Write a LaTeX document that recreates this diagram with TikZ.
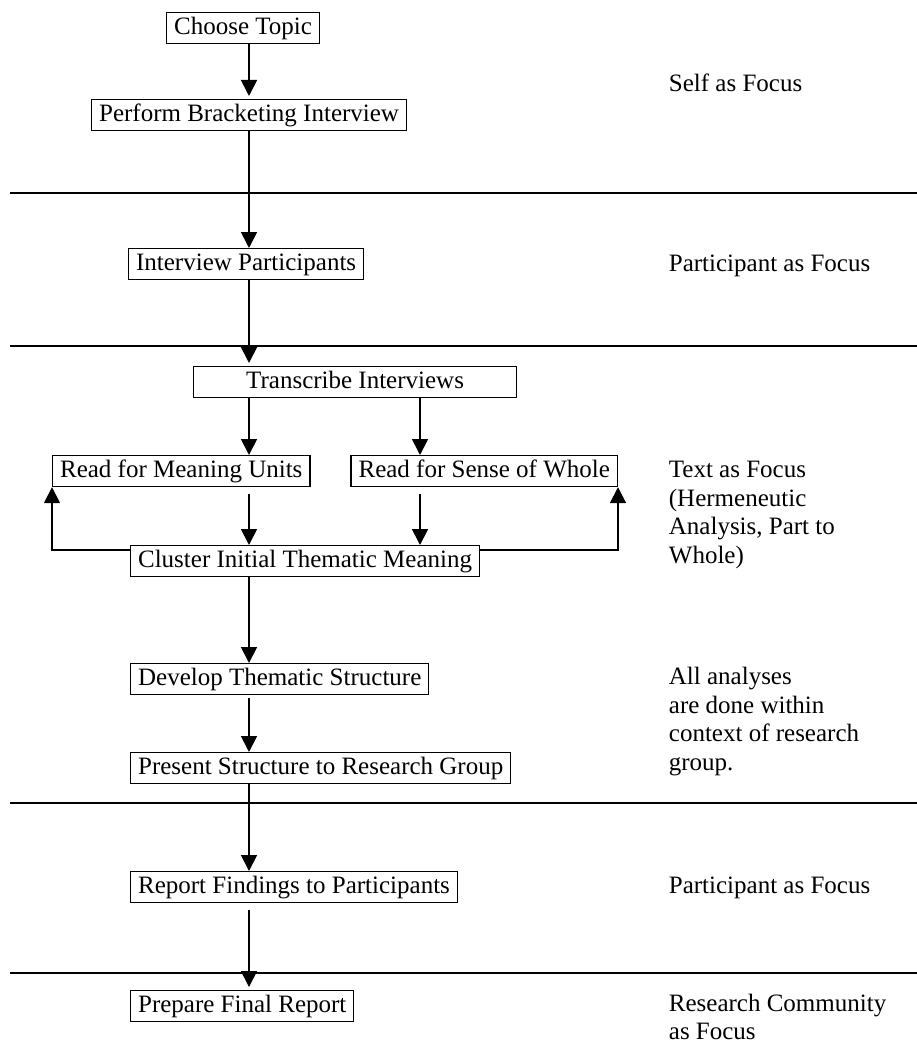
\documentclass[tikz,border=0pt]{standalone}
\usepackage{fontspec}
\setmainfont{Liberation Serif}
\usetikzlibrary{arrows.meta}

\tikzset{
  stepbox/.style={draw, line width=1.2pt, anchor=north west,
    inner xsep=7.5pt, inner ysep=4pt,
    text height=17.5pt, text depth=5.5pt},
  focuslabel/.style={anchor=base west, align=left, inner sep=0pt},
  trenner/.style={line width=1.8pt}
}

\begin{document}
\begin{tikzpicture}[x=1pt, y=-1pt, font=\fontsize{25}{28.5}\selectfont,
    >={Triangle[width=16pt,length=16pt]}, every path/.append style={line width=1.8pt}]
  \useasboundingbox (0,0) rectangle (917,1046);

  % Spalten fuer die senkrechten Pfeile
  \coordinate (col) at (249,0);
  \coordinate (col2) at (420,0);

  % Trennlinien zwischen den Phasen
  \foreach \y in {193,346,803,973}{
    \draw[trenner] (10,\y) -- (917,\y);
  }

  % Schritte
  \node[stepbox] (choose) at (166,12) {Choose Topic};
  \node[stepbox] (perform) at (91,99) {Perform Bracketing Interview};
  \node[stepbox] (interview) at (128,248) {Interview Participants};
  \node[stepbox, minimum width=323pt] (transcribe) at (193,366) {Transcribe Interviews};
  \node[stepbox] (readmean) at (52,455) {Read for Meaning Units};
  \node[stepbox, anchor=north east] (readsense) at (618,455) {Read for Sense of Whole};
  \node[stepbox] (cluster) at (130,545) {Cluster Initial Thematic Meaning};
  \node[stepbox] (develop) at (130,663) {Develop Thematic Structure};
  \node[stepbox] (present) at (130,752) {Present Structure to Research Group};
  \node[stepbox] (report) at (130,871) {Report Findings to Participants};
  \node[stepbox] (prepare) at (130,990) {Prepare Final Report};

  % Pfeile
  \draw[->, shorten >=3pt] (choose.south -| col) -- (perform.north -| col);
  \draw[->] (perform.south -| col) -- (interview.north -| col);
  \draw[->, shorten >=3pt] (interview.south -| col) -- (transcribe.north -| col);
  \draw[->] (transcribe.south -| col) -- (readmean.north -| col);
  \draw[->] (transcribe.south -| col2) -- (readsense.north -| col2);
  \draw[->, shorten <=7pt] (readmean.south -| col) -- (cluster.north -| col);
  \draw[->, shorten <=7pt] (readsense.south -| col2) -- (cluster.north -| col2);
  \draw[->] (cluster.south -| col) -- (develop.north -| col);
  \draw[->, shorten <=3pt] (develop.south -| col) -- (present.north -| col);
  \draw[->] (present.south -| col) -- (report.north -| col);
  \draw[->, shorten <=7pt, shorten >=3pt] (report.south -| col) -- (prepare.north -| col);

  % Rueckkopplung Teil / Ganzes
  \draw[->] ([yshift=-5pt]cluster.north west) -| (readmean.south west);
  \draw[->] ([yshift=-5pt]cluster.north east) -| (readsense.south east);

  % Beschriftung rechts (bei mehreren Zeilen: Grundlinie der letzten Zeile)
  \node[focuslabel] (self) at (668,92) {Self as Focus};
  \node[focuslabel] (part1) at (668,271) {Participant as Focus};
  \node[focuslabel] (text) at (668,563) {Text as Focus\\(Hermeneutic\\Analysis, Part to\\Whole)};
  \node[focuslabel] (group) at (668,770) {All analyses\\are done within\\context of research\\group.};
  \node[focuslabel] (part2) at (668,893) {Participant as Focus};
  \node[focuslabel, font=\fontsize{25}{27.5}\selectfont] (community) at (668,1039) {Research Community\\as Focus};

\end{tikzpicture}
\end{document}
